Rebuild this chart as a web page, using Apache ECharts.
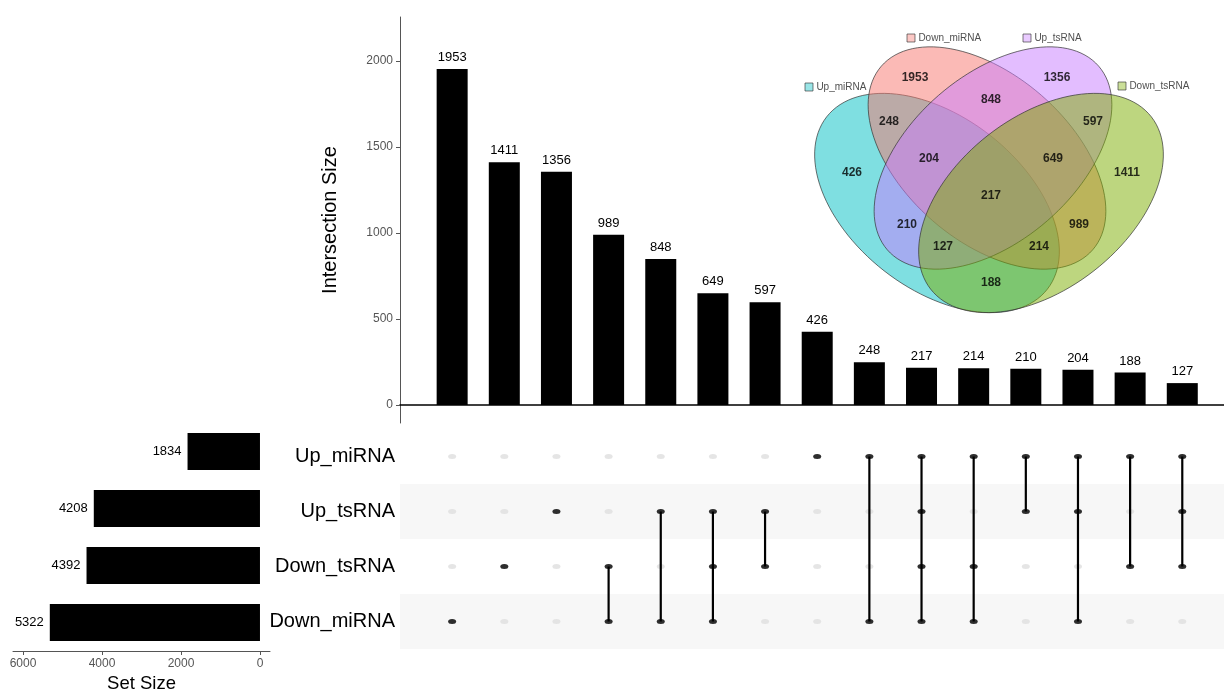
<!DOCTYPE html>
<html><head><meta charset="utf-8">
<script src="https://cdn.jsdelivr.net/npm/echarts@6/dist/echarts.min.js"></script>
<style>html,body{margin:0;padding:0;background:#fff}#c{width:1224px;height:689px}</style>
</head><body><div id="c"></div>
<script>
// ---------- data ----------
const setNames = ['Up_miRNA', 'Up_tsRNA', 'Down_tsRNA', 'Down_miRNA'];
const setSizes = [1834, 4208, 4392, 5322];
const intersectionSizes = [1953, 1411, 1356, 989, 848, 649, 597, 426, 248, 217, 214, 210, 204, 188, 127];
const intersectionSets = [
  ['Down_miRNA'],
  ['Down_tsRNA'],
  ['Up_tsRNA'],
  ['Down_tsRNA', 'Down_miRNA'],
  ['Up_tsRNA', 'Down_miRNA'],
  ['Up_tsRNA', 'Down_tsRNA', 'Down_miRNA'],
  ['Up_tsRNA', 'Down_tsRNA'],
  ['Up_miRNA'],
  ['Up_miRNA', 'Down_miRNA'],
  ['Up_miRNA', 'Up_tsRNA', 'Down_tsRNA', 'Down_miRNA'],
  ['Up_miRNA', 'Down_tsRNA', 'Down_miRNA'],
  ['Up_miRNA', 'Up_tsRNA'],
  ['Up_miRNA', 'Up_tsRNA', 'Down_miRNA'],
  ['Up_miRNA', 'Down_tsRNA'],
  ['Up_miRNA', 'Up_tsRNA', 'Down_tsRNA']
];
const intersectionTicks = [0, 500, 1000, 1500, 2000];
const setSizeTicks = [0, 2000, 4000, 6000];
const vennSets = ['Up_miRNA', 'Down_miRNA', 'Up_tsRNA', 'Down_tsRNA'];
const vennColors = ['#00BFC4', '#F8766D', '#C77CFF', '#7CAE00'];

// ---------- Venn layout (positions in the inset's own coordinate system) ----------
const vennEllipses = [
  { cx: 937, cy: 203, a: 140, b: 86, rot: 38 },
  { cx: 987, cy: 158, a: 140, b: 83, rot: 41 },
  { cx: 993, cy: 158, a: 140, b: 83, rot: -41 },
  { cx: 1041, cy: 203, a: 140, b: 86, rot: -38 }
];
// label positions, parallel to intersectionSizes
const vennLabelPos = [
  [915, 78], [1127, 173], [1057, 78], [1079, 225], [991, 100], [1053, 159], [1093, 122],
  [852, 173], [889, 122], [991, 196], [1039, 247], [907, 225], [929, 159], [991, 283], [943, 247]
];
const vennLegendPos = [[809, 87], [911, 38], [1027, 38], [1122, 86]];

// ---------- helpers ----------
function alpha(hex, a) {
  const n = parseInt(hex.slice(1), 16);
  return 'rgba(' + ((n >> 16) & 255) + ',' + ((n >> 8) & 255) + ',' + (n & 255) + ',' + a + ')';
}
const FONT = 'Liberation Sans, Arial, Helvetica, sans-serif';
const axisGray = '#555555';
const plain = v => String(v);

const cellsAll = [];
const cellsOn = [];
const connectors = [];
intersectionSets.forEach((s, i) => {
  const idx = s.map(n => setNames.indexOf(n));
  setNames.forEach((n, r) => {
    cellsAll.push([i + 1, r]);
  });
  idx.forEach(r => cellsOn.push([i + 1, r]));
  if (idx.length > 1) connectors.push([i + 1, Math.min(...idx), Math.max(...idx)]);
});
const stripeRows = setNames.map((n, i) => [0, i]).filter(d => d[1] % 2 === 1);

const chart = echarts.init(document.getElementById('c'), null, { renderer: 'canvas' });
chart.setOption({
  animation: false,
  backgroundColor: '#ffffff',
  textStyle: { fontFamily: FONT },
  grid: [
    { left: 400, top: 17, width: 824, height: 406, outerBoundsMode: 'none' },
    { left: 400, top: 429, width: 824, height: 220, outerBoundsMode: 'none' },
    { left: 13, top: 423, width: 257, height: 228, outerBoundsMode: 'none' },
    { left: 800, top: 20, width: 400, height: 290, outerBoundsMode: 'none' }
  ],
  xAxis: [
    { gridIndex: 0, type: 'value', min: 0, max: 15.8,
      axisLine: { show: true, onZero: true, lineStyle: { color: '#000', width: 1.6 } },
      axisTick: { show: false }, axisLabel: { show: false }, splitLine: { show: false } },
    { gridIndex: 1, type: 'value', min: 0, max: 15.8, show: false },
    { gridIndex: 2, type: 'value', min: -254, max: 6254, inverse: true,
      axisLine: { show: true, onZero: false, lineStyle: { color: axisGray, width: 1 } },
      axisTick: { show: true, length: 4, lineStyle: { color: axisGray }, customValues: setSizeTicks },
      axisLabel: { show: true, fontSize: 12, color: '#555', margin: 7, customValues: setSizeTicks,
                   fontFamily: FONT, formatter: plain },
      splitLine: { show: false },
      name: 'Set Size', nameLocation: 'middle', nameGap: 23,
      nameTextStyle: { fontSize: 18.5, color: '#000', fontFamily: FONT } },
    { gridIndex: 3, type: 'value', min: 800, max: 1200, show: false }
  ],
  yAxis: [
    { gridIndex: 0, type: 'value', min: -105, max: 2256,
      axisLine: { show: true, lineStyle: { color: axisGray, width: 1 } },
      axisTick: { show: true, length: 4, lineStyle: { color: axisGray }, customValues: intersectionTicks },
      axisLabel: { show: true, fontSize: 12, color: '#555', margin: 7, customValues: intersectionTicks,
                   fontFamily: FONT, formatter: plain },
      splitLine: { show: false },
      name: 'Intersection Size', nameLocation: 'middle', nameGap: 60,
      nameTextStyle: { fontSize: 20, color: '#000', fontFamily: FONT } },
    { gridIndex: 1, type: 'category', data: setNames, inverse: true,
      axisLine: { show: false }, axisTick: { show: false }, splitLine: { show: false },
      axisLabel: { show: true, fontSize: 20, color: '#000', margin: 5, fontFamily: FONT } },
    { gridIndex: 2, type: 'category', data: setNames, inverse: true, show: false },
    { gridIndex: 3, type: 'value', min: 20, max: 310, inverse: true, show: false }
  ],
  series: [
    { // intersection bars
      type: 'bar', xAxisIndex: 0, yAxisIndex: 0, barWidth: 31,
      data: intersectionSizes.map((v, i) => [i + 1, v]),
      itemStyle: { color: '#000' },
      label: { show: true, position: 'top', distance: 5, fontSize: 13, color: '#000', fontFamily: FONT,
               formatter: p => p.value[1] }
    },
    { // matrix stripes
      type: 'custom', xAxisIndex: 1, yAxisIndex: 1, silent: true, z: 0,
      data: stripeRows, encode: { x: 0, y: 1 },
      renderItem: (params, api) => {
        const cs = params.coordSys;
        const p = api.coord([0, api.value(1)]);
        const h = api.size([0, 1])[1];
        return { type: 'rect', shape: { x: cs.x, y: p[1] - h / 2, width: cs.width, height: h },
                 style: { fill: '#F7F7F7' } };
      }
    },
    { // inactive dots
      type: 'scatter', xAxisIndex: 1, yAxisIndex: 1, z: 2, silent: true,
      data: cellsAll, symbol: 'circle', symbolSize: [8, 5],
      itemStyle: { color: '#DEDEDE' }
    },
    { // connectors
      type: 'custom', xAxisIndex: 1, yAxisIndex: 1, z: 3, silent: true,
      data: connectors, encode: { x: 0, y: [1, 2] },
      renderItem: (params, api) => {
        const p1 = api.coord([api.value(0), api.value(1)]);
        const p2 = api.coord([api.value(0), api.value(2)]);
        return { type: 'line', shape: { x1: p1[0], y1: p1[1], x2: p2[0], y2: p2[1] },
                 style: { stroke: '#000', lineWidth: 2.2 } };
      }
    },
    { // active dots
      type: 'scatter', xAxisIndex: 1, yAxisIndex: 1, z: 4, silent: true,
      data: cellsOn, symbol: 'circle', symbolSize: [8, 5],
      itemStyle: { color: '#000' }
    },
    { // set size bars
      type: 'bar', xAxisIndex: 2, yAxisIndex: 2, barWidth: 37,
      data: setSizes, itemStyle: { color: '#000' },
      label: { show: true, position: 'left', distance: 6, fontSize: 13, color: '#000', fontFamily: FONT }
    },
    { // venn ellipses
      type: 'custom', xAxisIndex: 3, yAxisIndex: 3, z: 5, silent: true,
      data: vennEllipses.map((e, i) => [e.cx, e.cy, i]), encode: { x: 0, y: 1 },
      renderItem: (params, api) => {
        const e = vennEllipses[params.dataIndex];
        const th = e.rot * Math.PI / 180;
        const pts = [];
        for (let k = 0; k < 120; k++) {
          const t = k / 120 * Math.PI * 2;
          const x = e.cx + e.a * Math.cos(t) * Math.cos(th) - e.b * Math.sin(t) * Math.sin(th);
          const y = e.cy + e.a * Math.cos(t) * Math.sin(th) + e.b * Math.sin(t) * Math.cos(th);
          pts.push(api.coord([x, y]));
        }
        return { type: 'polygon', shape: { points: pts },
                 style: { fill: alpha(vennColors[params.dataIndex], 0.5), stroke: '#333', lineWidth: 0.7 } };
      }
    },
    { // venn counts
      type: 'scatter', xAxisIndex: 3, yAxisIndex: 3, z: 6, silent: true,
      data: vennLabelPos.map((p, i) => [p[0], p[1], intersectionSizes[i]]),
      symbolSize: 1, itemStyle: { color: 'rgba(0,0,0,0)' },
      label: { show: true, position: 'inside', fontSize: 12, fontWeight: 'bold', color: '#000', fontFamily: FONT,
               formatter: p => p.value[2] }
    },
    { // venn legend
      type: 'scatter', xAxisIndex: 3, yAxisIndex: 3, z: 6, silent: true,
      data: vennSets.map((n, i) => ({
        name: n, value: vennLegendPos[i],
        itemStyle: { color: alpha(vennColors[i], 0.5), borderColor: '#333', borderWidth: 0.8 }
      })),
      symbol: 'rect', symbolSize: 8,
      label: { show: true, position: 'right', distance: 3, fontSize: 10, color: '#222', fontFamily: FONT,
               formatter: p => p.name }
    }
  ]
});
</script>
</body></html>
